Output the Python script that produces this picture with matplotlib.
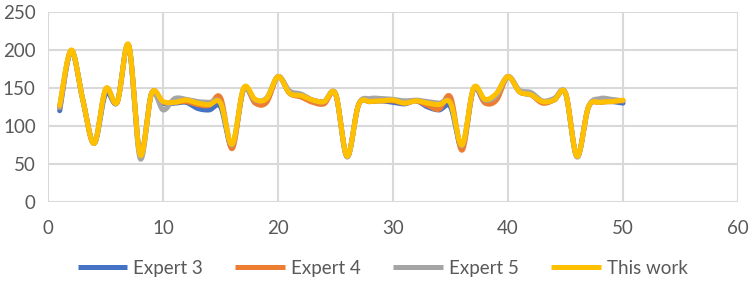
import numpy as np
import matplotlib
matplotlib.use("Agg")
import matplotlib.pyplot as plt

x_vals = list(range(1, 51))

this_work = [127, 200, 135, 77, 149, 131, 207, 62, 143, 132,
             131, 134, 130, 128, 130, 76, 150, 135, 136, 165,
             143, 140, 134, 132, 142, 60, 128, 132, 133, 134,
             130, 133, 130, 128, 130, 75, 150, 135, 143, 165,
             145, 141, 132, 134, 143, 60, 125, 131, 132, 134]

expert3 = [120, 199, 135, 77, 143, 131, 206, 62, 143, 130,
           130, 131, 123, 121, 125, 73, 148, 132, 133, 165,
           143, 140, 134, 132, 142, 60, 128, 132, 133, 131,
           129, 133, 125, 121, 125, 72, 148, 131, 142, 165,
           145, 141, 132, 134, 143, 60, 125, 131, 132, 130]

expert4 = [124, 199, 135, 77, 148, 131, 206, 62, 143, 131,
           131, 132, 128, 127, 137, 70, 149, 130, 131, 165,
           143, 138, 131, 129, 142, 60, 128, 132, 133, 133,
           130, 133, 127, 122, 138, 68, 149, 130, 134, 165,
           145, 141, 130, 134, 143, 60, 125, 131, 132, 133]

expert5 = [125, 199, 135, 77, 148, 131, 206, 57, 143, 121,
           136, 135, 132, 131, 130, 75, 148, 134, 137, 165,
           146, 142, 134, 132, 142, 59, 128, 136, 136, 135,
           133, 134, 132, 130, 130, 74, 148, 134, 140, 165,
           147, 144, 133, 136, 143, 59, 125, 136, 135, 133]

series_names = ["Expert 3", "Expert 4", "Expert 5", "This work"]
series_values = [expert3, expert4, expert5, this_work]
colors = ["#4472C4", "#ED7D31", "#A5A5A5", "#FFC000"]

x_ticks = [0, 10, 20, 30, 40, 50, 60]
y_ticks = [0, 50, 100, 150, 200, 250]


def smooth(xs, ys, n=20):
    """Catmull-Rom style smoothing similar to Excel smoothed lines."""
    xs = np.asarray(xs, float)
    ys = np.asarray(ys, float)
    px = np.concatenate([[xs[0]], xs, [xs[-1]]])
    py = np.concatenate([[ys[0]], ys, [ys[-1]]])
    outx, outy = [], []
    for i in range(1, len(px) - 2):
        p0x, p1x, p2x, p3x = px[i - 1], px[i], px[i + 1], px[i + 2]
        p0y, p1y, p2y, p3y = py[i - 1], py[i], py[i + 1], py[i + 2]
        c1x = p1x + (p2x - p0x) / 6
        c1y = p1y + (p2y - p0y) / 6
        c2x = p2x - (p3x - p1x) / 6
        c2y = p2y - (p3y - p1y) / 6
        t = np.linspace(0, 1, n, endpoint=(i == len(px) - 3))
        bx = (1 - t) ** 3 * p1x + 3 * (1 - t) ** 2 * t * c1x + 3 * (1 - t) * t ** 2 * c2x + t ** 3 * p2x
        by = (1 - t) ** 3 * p1y + 3 * (1 - t) ** 2 * t * c1y + 3 * (1 - t) * t ** 2 * c2y + t ** 3 * p2y
        outx.append(bx)
        outy.append(by)
    return np.concatenate(outx), np.concatenate(outy)


plt.rcParams['font.family'] = ['Lato', 'DejaVu Sans']

fig = plt.figure(figsize=(7.53, 2.84), dpi=100)
ax = fig.add_axes([0.064, 0.289, 0.916, 0.669])

for name, vals, c in zip(series_names, series_values, colors):
    sx, sy = smooth(x_vals, vals)
    ax.plot(sx, sy, color=c, lw=3.6, label=name, solid_capstyle='round')

ax.set_xlim(0, 60)
ax.set_ylim(0, 250)
ax.set_xticks(x_ticks)
ax.set_yticks(y_ticks)
ax.grid(True, color="#D9D9D9", lw=1.5)
ax.set_axisbelow(True)
for s in ax.spines.values():
    s.set_visible(False)
ax.tick_params(axis='y', length=0, labelsize=13.5, labelcolor="#595959", pad=9)
ax.tick_params(axis='x', length=0, labelsize=13.5, labelcolor="#595959", pad=13)

leg = fig.legend(loc="center", bbox_to_anchor=(0.508, 0.055), ncol=4, frameon=False,
                 fontsize=13.5, handlelength=2.65, handletextpad=0.3, columnspacing=1.75,
                 labelcolor="#595959", borderpad=0)
for line in leg.get_lines():
    line.set_linewidth(3.6)
    line.set_solid_capstyle('butt')

fig.savefig("out.png", dpi=100)
